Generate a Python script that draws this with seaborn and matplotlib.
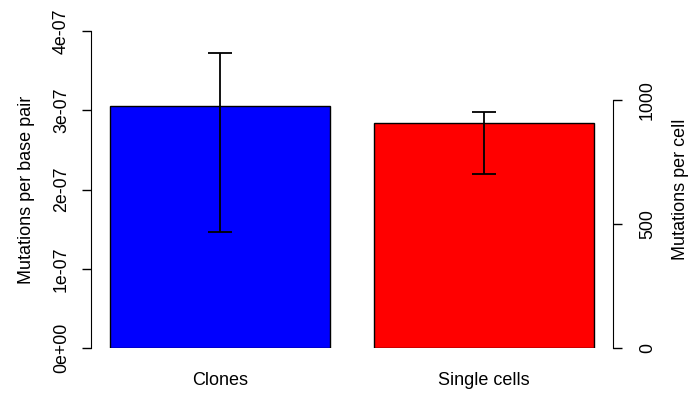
import numpy as np
import seaborn as sns
import matplotlib.pyplot as plt

categories = ["Clones", "Single cells"]
rate = [3.05e-07, 2.835e-07]
ci_low = [1.47e-07, 2.20e-07]
ci_high = [3.72e-07, 2.98e-07]
bar_colors = ["#0000FF", "#FF0000"]

left_ticks = [0, 1e-07, 2e-07, 3e-07, 4e-07]
left_labels = ["0e+00", "1e-07", "2e-07", "3e-07", "4e-07"]
right_ticks = [0, 500, 1000]


sns.set_style("white")
plt.rcParams["font.family"] = ["Liberation Sans", "DejaVu Sans"]
plt.rcParams["text.color"] = "black"
plt.rcParams["axes.labelcolor"] = "black"
plt.rcParams["xtick.color"] = "black"
plt.rcParams["ytick.color"] = "black"

fig = plt.figure(figsize=(6.97, 4), dpi=100)
ax = fig.add_axes([90.6 / 697, 52 / 400, (613.4 - 90.6) / 697, 317 / 400])

sns.barplot(
    x=categories, y=rate, hue=categories, palette=bar_colors, legend=False,
    width=0.833, edgecolor="black", linewidth=1, saturation=1, ax=ax
)
vals = np.array(rate)
yerr = [vals - np.array(ci_low), np.array(ci_high) - vals]
ax.errorbar(range(len(categories)), vals, yerr=yerr, fmt="none",
            ecolor="black", elinewidth=1.3, capsize=8.5, capthick=1.3)

ax.set_xlim(-0.49, 1.49)
ax.set_ylim(0, 4e-07)
ax.set_yticks(left_ticks)
ax.set_yticklabels(left_labels, rotation=90, va="center")
ax.tick_params(axis="y", length=6.8, width=1, pad=8, labelsize=12.8, color="black")
ax.tick_params(axis="x", length=0, pad=17, labelsize=13)
ax.set_ylabel("Mutations per base pair", fontsize=13, labelpad=13)

for s in ["top", "right", "bottom"]:
    ax.spines[s].set_visible(False)
ax.spines["left"].set_bounds(0, 4e-07)
ax.spines["left"].set_color("black")

# right-hand scale: mutations per cell
ax2 = ax.twinx()
ax2.set_ylim(0, 1000 * 317 / 248)
ax2.set_yticks(right_ticks)
ax2.set_yticklabels([str(t) for t in right_ticks], rotation=90, va="center")
ax2.tick_params(axis="y", length=6.8, width=1, pad=11.5, labelsize=12.8, color="black")
ax2.set_ylabel("Mutations per cell", fontsize=13, labelpad=12)
for s in ["top", "left", "bottom"]:
    ax2.spines[s].set_visible(False)
ax2.spines["right"].set_bounds(0, 1000)
ax2.spines["right"].set_color("black")
ax2.grid(False)

fig.savefig("out.png", dpi=100)
